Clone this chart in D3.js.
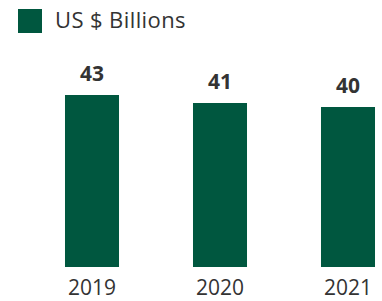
<!DOCTYPE html>
<html>
<head>
<meta charset="utf-8">
<script src="https://cdn.jsdelivr.net/npm/d3@7"></script>
<style>
  body { margin: 0; background: #fff; }
  text { font-family: "Open Sans", sans-serif; fill: #333; }
</style>
</head>
<body>
<div id="chart"></div>
<script>
// chart data
var years = ["2019", "2020", "2021"];
var values = [43, 41, 40];
var legendLabel = "US $ Billions";

var width = 382,
    height = 301,
    barColor = "#00573f";

var svg = d3.select("#chart")
  .append("svg")
  .attr("width", width)
  .attr("height", height);

// x positions: bars 54px wide, centred at 92, 220, 348
var x = d3.scaleBand()
  .domain(years)
  .range([28, 412])
  .paddingInner(0.578)
  .paddingOuter(0.289);

var y = d3.scaleLinear()
  .domain([0, 50])
  .range([267, 67]);

// legend
svg.append("rect")
  .attr("x", 18).attr("y", 9)
  .attr("width", 24).attr("height", 24)
  .attr("fill", barColor);
svg.append("text")
  .attr("x", 55).attr("y", 28)
  .style("font-size", "22px")
  .style("letter-spacing", "0.4px")
  .text(legendLabel);

// bars
svg.selectAll(".bar")
  .data(values)
  .enter().append("rect")
  .attr("class", "bar")
  .attr("x", function(d, i) { return x(years[i]); })
  .attr("y", function(d) { return y(d); })
  .attr("width", x.bandwidth())
  .attr("height", function(d) { return y(0) - y(d); })
  .attr("fill", barColor);

// value labels
svg.selectAll(".val")
  .data(values)
  .enter().append("text")
  .attr("class", "val")
  .attr("x", function(d, i) { return x(years[i]) + x.bandwidth() / 2; })
  .attr("y", function(d) { return y(d) - 14; })
  .attr("text-anchor", "middle")
  .style("font-size", "21px")
  .style("font-weight", "bold")
  .text(function(d) { return d; });

// year axis
var xAxis = svg.append("g")
  .attr("transform", "translate(0," + y(0) + ")")
  .call(d3.axisBottom(x).tickSize(0).tickPadding(13));
xAxis.select(".domain").remove();
xAxis.selectAll("text")
  .attr("dy", "0.71em")
  .style("font-size", "21px")
  .style("font-family", "'Open Sans', sans-serif")
  .attr("fill", "#333");
</script>
</body>
</html>
